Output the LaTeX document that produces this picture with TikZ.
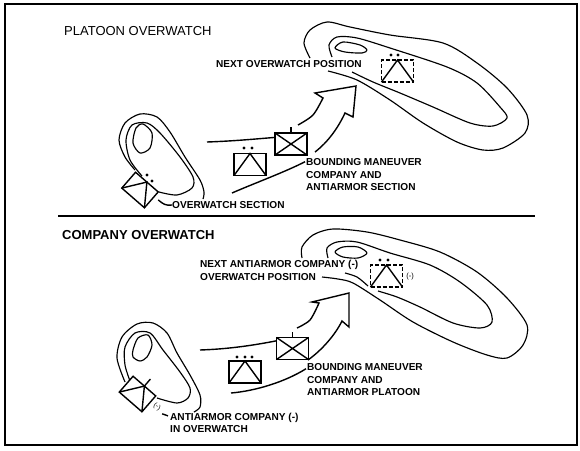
\documentclass[tikz,border=0pt]{standalone}
\usepackage{fontspec}
\setmainfont{Liberation Sans}
\usetikzlibrary{arrows.meta,positioning,calc}

\begin{document}
\begin{tikzpicture}[
  x=1pt, y=-1pt,
  un/.style={rectangle, draw=black, line width=1.4pt, inner sep=0pt, outer sep=0pt,
             minimum width=32pt, minimum height=22pt},
  dsh/.style={un, dash pattern=on 4pt off 2pt},
  lb/.style={anchor=west, inner sep=0pt, align=left, font=\bfseries\fontsize{10.1}{12.5}\selectfont},
  ttl/.style={anchor=west, inner sep=0pt, font=\fontsize{13}{15}\selectfont},
  ct/.style={line width=1.15pt, line join=round},
  bd/.style={line width=1.4pt, line join=miter},
  dt/.style={fill=black}
]
\useasboundingbox (0,0) rectangle (580,450);
\draw[line width=1.7pt] (5,4) rectangle (577,445);
\draw[line width=1.4pt] (58,216) -- (535,216);

% Upper panel: titles and labels
\node[ttl] (ttlA) at (64,31) {PLATOON OVERWATCH};
\node[lb] (nextA) at (216,64) {NEXT OVERWATCH POSITION};
\node[lb] (bndA) at (306,175) {BOUNDING MANEUVER\\COMPANY AND\\ANTIARMOR SECTION};
\node[lb] (secA) at (172,205) {OVERWATCH SECTION};

% Upper panel: hill on the left
\draw[ct] plot[smooth] coordinates {(135,170) (125,157) (119,140) (125,123) (140,114) (157,117) (170,132) (185,157) (200,180) (204,192) (203,199)};
\draw[ct] plot[smooth] coordinates {(142,176) (130,160) (126,140) (132,125) (147,123) (160,133) (180,157) (193,177) (192,188) (177,195) (159,192)};
\draw[ct] plot[smooth cycle] coordinates {(143,124) (152,133) (150,148) (140,153) (133,143) (136,128)};

% Upper panel: hill on the right
\draw[ct] plot[smooth] coordinates {(310,58) (304,43) (310,30) (327,22) (350,27) (390,35) (443,43) (477,63) (507,88) (527,115) (525,133) (503,148) (483,150) (457,142) (423,123) (390,100) (357,80) (328,71)};
\draw[ct] plot[smooth] coordinates {(332,57) (329,45) (337,37) (357,38) (390,48) (447,67) (477,83) (500,107) (507,118) (493,126) (470,123) (433,107) (400,93) (373,82) (352,72)};
\draw[ct] plot[smooth cycle] coordinates {(335,48) (343,42) (360,45) (367,50) (362,53) (345,52)};

% Upper panel: units
\node[un, fill=white, rotate=-41, minimum height=21pt, minimum width=30pt] (ovA) at (140,190) {};
\draw[bd] (ovA.south west) -- (ovA.north) -- (ovA.south east);
\fill[dt] (147,175) circle (1.6pt) (152,181) circle (1.6pt);
\node[un] (atA) at (250,164.5) {};
\draw[bd] (atA.south west) -- (atA.north) -- (atA.south east);
\fill[dt] (244,148) circle (1.6pt) (252,148) circle (1.6pt);
\node[un] (mvA) at (291,144) {};
\draw[bd] (mvA.north west) -- (mvA.south east) (mvA.south west) -- (mvA.north east);
\draw[bd] (mvA.north) -- ++(0,-6);
\node[dsh] (nxA) at (397.5,71) {};
\draw[bd] (nxA.south west) -- (nxA.north) -- (nxA.south east);
\fill[dt] (391,55) circle (1.6pt) (398,55) circle (1.6pt);

% Upper panel: arrow
\coordinate (tlA) at (207,142);
\coordinate (blA) at (232,193);
\draw[bd] (tlA) .. controls (235,141) and (255,139) .. ($(mvA.north west)!0.2!(mvA.south west)$);
\draw[bd] (blA) .. controls (255,183) and (285,172) .. ($(bndA.north west)+(-1,3)$);
\draw[bd] plot[smooth] coordinates {(298,125) (313,115) (323,98)} -- (315,93) -- (356,86) -- (353,117) -- (345,113)
  .. controls (338,128) and (328,142) .. (315,152);
\draw[bd] ($(ovA.north east)+(0,8)$) .. controls (163,204) and (166,206) .. (secA.west);

% Lower panel: titles and labels
\node[ttl, font=\bfseries\fontsize{13}{15}\selectfont] (ttlB) at (62,235) {COMPANY OVERWATCH};
\node[lb] (nextB) at (200,270.5) {NEXT ANTIARMOR COMPANY (-)\\OVERWATCH POSITION};
\node[lb] (bndB) at (307,380) {BOUNDING MANEUVER\\COMPANY AND\\ANTIARMOR PLATOON};
\node[lb] (secB) at (170,423) {ANTIARMOR COMPANY (-)\\IN OVERWATCH};

% Lower panel: hill on the left
\draw[ct] plot[smooth] coordinates {(125,382) (117,358) (122,337) (137,324) (153,323) (167,333) (177,353) (190,375) (200,395) (200,407) (194,412)};
\draw[ct] plot[smooth] coordinates {(130,381) (125,365) (125,347) (135,333) (150,333) (163,350) (180,372) (190,388) (188,398) (177,403) (157,398)};
\draw[ct] plot[smooth cycle] coordinates {(133,350) (138,338) (148,335) (152,345) (147,357) (140,361) (133,357)};

% Lower panel: hill on the right
\draw[ct] plot[smooth] coordinates {(302,258) (302,247) (313,235) (333,229) (367,232) (400,240) (440,252) (477,272) (507,298) (527,325) (523,345) (507,358) (487,355) (453,342) (413,322) (380,300) (353,283) (338,279) (322,277)};
\draw[ct] plot[smooth] coordinates {(328,258) (327,248) (337,242) (357,242) (390,253) (430,265) (460,282) (487,305) (492,322) (480,328) (453,323) (420,307) (397,297) (378,291)};
\draw[ct] plot[smooth] coordinates {(345,273) (357,277) (368,286)};
\draw[ct] plot[smooth cycle] coordinates {(335,252) (343,247) (358,247) (367,253) (358,258) (343,257)};

% Lower panel: units
\node[un, fill=white, rotate=-41, minimum height=21pt, minimum width=30pt] (ovB) at (137.5,394) {};
\draw[bd] (ovB.south west) -- (ovB.north) -- (ovB.south east);
\draw[bd] (ovB.north) -- ++(6,-7);
\node[font=\fontsize{7}{8}\selectfont, inner sep=0pt, rotate=-30] (minB) at (157,407) {(-)};
\node[un] (atB) at (245,372) {};
\draw[bd] (atB.south west) -- (atB.north) -- (atB.south east);
\foreach \dx in {237,245,252} \fill[dt] (\dx,357) circle (1.6pt);
\node[un] (mvB) at (292.5,348.5) {};
\draw[bd] (mvB.north west) -- (mvB.south east) (mvB.south west) -- (mvB.north east);
\draw[bd] (mvB.north) -- ++(0,-6);
\node[dsh] (nxB) at (386.5,276) {};
\draw[bd] (nxB.south west) -- (nxB.north) -- (nxB.south east);
\fill[dt] (380,260) circle (1.6pt) (388,260) circle (1.6pt);
\node[font=\fontsize{7.5}{9}\selectfont, inner sep=0pt] (minC) at (410,277) {(-)};

% Lower panel: arrow
\coordinate (tlB) at (200,350);
\coordinate (blB) at (231,393);
\draw[bd] (tlB) .. controls (230,349) and (255,345) .. ($(mvB.north west)!0.15!(mvB.south west)$);
\draw[bd] (blB) .. controls (255,391) and (285,382) .. ($(bndB.north west)+(-1,5)$);
\draw[bd] plot[smooth] coordinates {(297,328) (310,320) (319,303)} -- (312,302) -- (349,293) -- (349,327) -- (342,321)
  .. controls (335,335) and (322,350) .. (308,360);
\draw[bd] ($(minB.east)+(2,5)$) -- ($(secB.north west)+(-2,3)$);
\end{tikzpicture}
\end{document}
